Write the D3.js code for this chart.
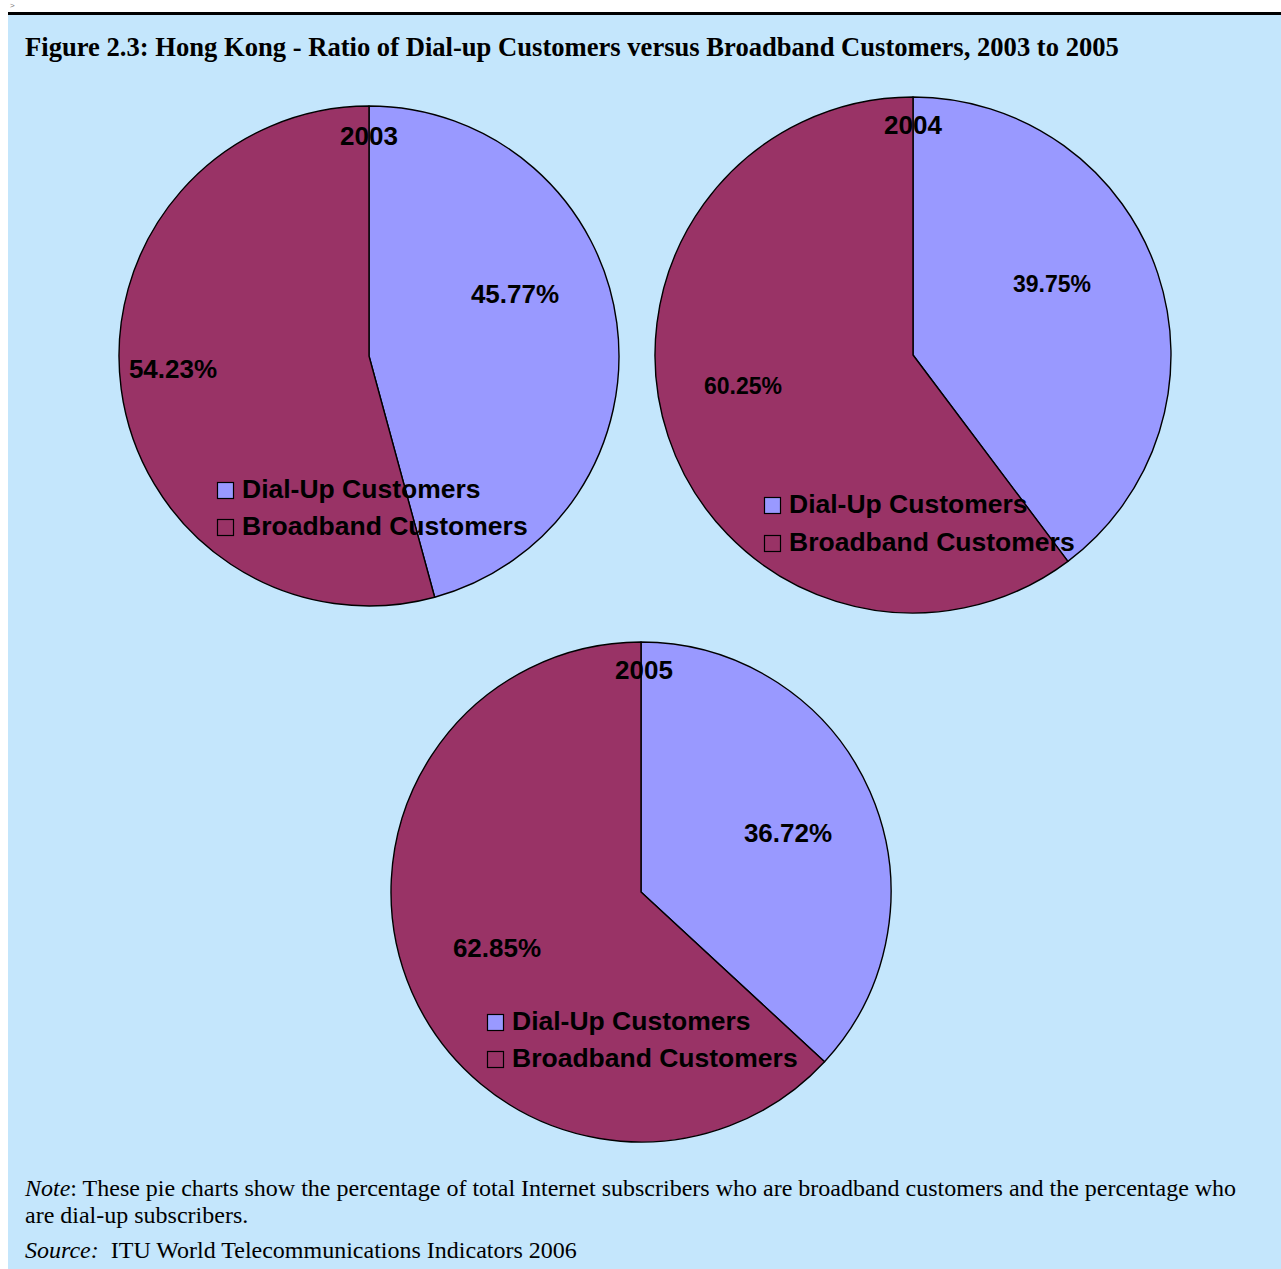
<!DOCTYPE html>
<html>
<head>
<meta charset="utf-8">
<script src="https://cdn.jsdelivr.net/npm/d3@7"></script>
<style>
  html, body { margin: 0; padding: 0; background: #ffffff; }
  svg { display: block; }
</style>
</head>
<body>
<svg id="chart" width="1281" height="1269"></svg>
<script>
// Share of Internet subscribers, Hong Kong (percent)
const years = ["2003", "2004", "2005"];
const seriesNames = ["Dial-Up Customers", "Broadband Customers"];
const dialUp = [45.77, 39.75, 36.72];
const broadband = [54.23, 60.25, 62.85];

const colors = ["#9999ff", "#993366"];
const sans = "'Liberation Sans', Arial, sans-serif";
const serif = "'Liberation Serif', 'Times New Roman', serif";

// Placement of each pie, its year caption, value labels and legend
const layout = [
  { cx: 369, cy: 356, r: 250, yearX: 369, yearY: 145, labelSize: 26,
    labels: [[515, 303], [173, 378]], legend: [217, 482, 37] },
  { cx: 913, cy: 355, r: 258, yearX: 913, yearY: 134, labelSize: 23,
    labels: [[1052, 292], [743, 394]], legend: [764, 497, 38] },
  { cx: 641, cy: 892, r: 250, yearX: 644, yearY: 679, labelSize: 26,
    labels: [[788, 842], [497, 957]], legend: [487, 1014, 37] }
];

const svg = d3.select("#chart");

// page frame: small marker, rule and light-blue panel
svg.append("text").attr("x", 10).attr("y", 8)
  .attr("font-family", sans).attr("font-size", 8).attr("fill", "#777")
  .text(">");
svg.append("rect").attr("x", 8).attr("y", 15).attr("width", 1273).attr("height", 1254)
  .attr("fill", "#c4e6fc");
svg.append("rect").attr("x", 8).attr("y", 12).attr("width", 1273).attr("height", 3)
  .attr("fill", "#000");

svg.append("text").attr("x", 25).attr("y", 56)
  .attr("font-family", serif).attr("font-size", 26.6).attr("font-weight", "bold")
  .attr("fill", "#000")
  .text("Figure 2.3: Hong Kong - Ratio of Dial-up Customers versus Broadband Customers, 2003 to 2005");

const pie = d3.pie().sort(null).value(d => d.value);

years.forEach((year, i) => {
  const L = layout[i];
  const data = [
    { name: seriesNames[0], value: dialUp[i] },
    { name: seriesNames[1], value: broadband[i] }
  ];
  const arc = d3.arc().innerRadius(0).outerRadius(L.r);
  const g = svg.append("g").attr("transform", `translate(${L.cx},${L.cy})`);

  g.selectAll("path").data(pie(data)).join("path")
    .attr("d", arc)
    .attr("fill", (d, j) => colors[j])
    .attr("stroke", "#000")
    .attr("stroke-width", 1.4)
    .attr("stroke-linejoin", "round");

  // year caption at the top of the pie
  svg.append("text").attr("x", L.yearX).attr("y", L.yearY)
    .attr("text-anchor", "middle")
    .attr("font-family", sans).attr("font-size", 26).attr("font-weight", "bold")
    .attr("fill", "#000").text(year);

  // value labels
  data.forEach((d, j) => {
    svg.append("text").attr("x", L.labels[j][0]).attr("y", L.labels[j][1])
      .attr("text-anchor", "middle")
      .attr("font-family", sans).attr("font-size", L.labelSize).attr("font-weight", "bold")
      .attr("fill", "#000").text(d.value.toFixed(2) + "%");
  });

  // legend
  const [lx, ly, gap] = L.legend;
  data.forEach((d, j) => {
    const y = ly + j * gap;
    svg.append("rect").attr("x", lx + 0.5).attr("y", y + 0.5).attr("width", 16).attr("height", 16)
      .attr("fill", colors[j]).attr("stroke", "#000").attr("stroke-width", 1.2);
    svg.append("text").attr("x", lx + 25).attr("y", y + 16)
      .attr("font-family", sans).attr("font-size", 26.5).attr("font-weight", "bold")
      .attr("fill", "#000").text(d.name);
  });
});

// footnote and source
const note = svg.append("text").attr("x", 25).attr("y", 1196)
  .attr("font-family", serif).attr("font-size", 24).attr("fill", "#000");
note.append("tspan").attr("font-style", "italic").text("Note");
note.append("tspan").text(": These pie charts show the percentage of total Internet subscribers who are broadband customers and the percentage who");
svg.append("text").attr("x", 25).attr("y", 1223)
  .attr("font-family", serif).attr("font-size", 24).attr("fill", "#000")
  .text("are dial-up subscribers.");
const src = svg.append("text").attr("x", 25).attr("y", 1258)
  .attr("font-family", serif).attr("font-size", 24).attr("fill", "#000")
  .attr("xml:space", "preserve");
src.append("tspan").attr("font-style", "italic").text("Source:");
src.append("tspan").text("\u00a0 ITU World Telecommunications Indicators 2006");
</script>
</body>
</html>
